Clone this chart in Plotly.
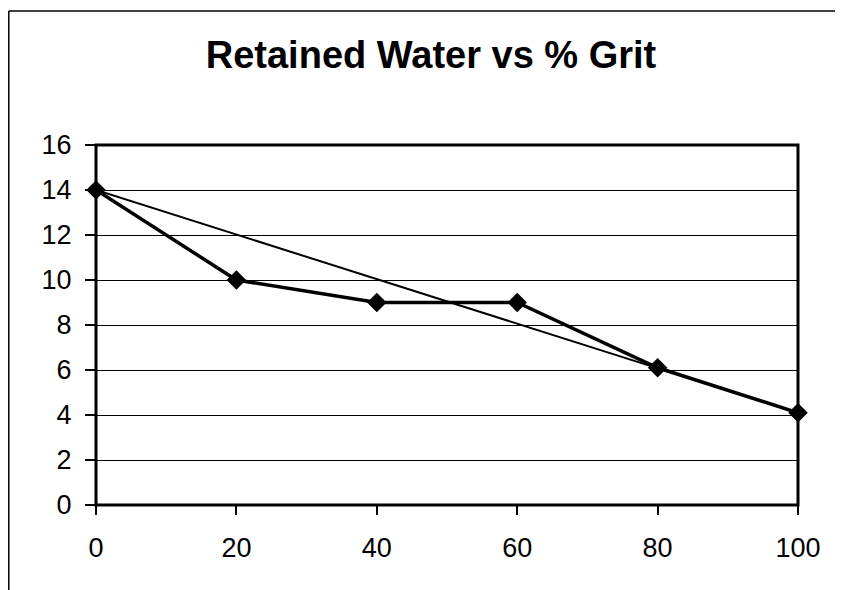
import plotly.graph_objects as go

grit = [0, 20, 40, 60, 80, 100]
water = [14, 10, 9, 9, 6.1, 4.1]
trend_x = [0, 100]
trend_y = [14, 4.1]
y_ticks = [0, 2, 4, 6, 8, 10, 12, 14, 16]
x_ticks = [0, 20, 40, 60, 80, 100]

# page body has an 8px margin; figure origin sits at (8, 8)
OFF = 8
W, H = 843 - OFF, 590 - OFF
L, R, T, B = 96 - OFF, 798 - OFF, 145 - OFF, 505 - OFF

fig = go.Figure()
fig.add_trace(go.Scatter(x=trend_x, y=trend_y, mode="lines",
                         line=dict(color="black", width=2), showlegend=False))
fig.add_trace(go.Scatter(x=grit, y=water, mode="lines+markers",
                         line=dict(color="black", width=3.5),
                         marker=dict(symbol="diamond", size=15, color="black"),
                         showlegend=False, cliponaxis=False))

pw, ph = R - L, B - T
def px(x):
    return (x - L) / pw
def py(y):
    return (B - y) / ph

# outer chart-area frame: only left and top edges visible in the crop
fig.add_shape(type="line", xref="paper", yref="paper",
              x0=px(0.8), x1=px(0.8), y0=py(H + 10), y1=py(3),
              line=dict(color="black", width=1.5), layer="below")
fig.add_shape(type="line", xref="paper", yref="paper",
              x0=px(0.8), x1=px(W + 10), y0=py(3), y1=py(3),
              line=dict(color="black", width=1.5), layer="below")
fig.add_shape(type="rect", xref="paper", yref="paper",
              x0=0, x1=1, y0=0, y1=1,
              line=dict(color="black", width=3), layer="above")

fig.update_layout(
    width=W, height=H,
    margin=dict(l=L, r=W - R, t=T, b=H - B),
    paper_bgcolor="white", plot_bgcolor="white",
    font=dict(family="Liberation Sans, Arial, sans-serif", color="black"),
    title=dict(text="<b>Retained Water vs % Grit</b>", x=(431 - OFF) / W, xanchor="center",
               y=1 - (55 - OFF) / H, yanchor="middle",
               font=dict(size=38, family="Liberation Sans, Arial, sans-serif", color="black")),
    xaxis=dict(range=[0, 100], tickvals=x_ticks, ticks="outside", ticklen=9,
               tickwidth=1.5, tickcolor="black", showgrid=False, zeroline=False,
               showline=False, tickfont=dict(size=27), ticklabelstandoff=10),
    yaxis=dict(range=[0, 16], tickvals=y_ticks, ticks="outside", ticklen=10,
               tickwidth=1.5, tickcolor="black", showgrid=True, gridcolor="black",
               gridwidth=1.2, zeroline=False, showline=False,
               tickfont=dict(size=27), ticklabelstandoff=8),
)

fig.write_html("out.html")
